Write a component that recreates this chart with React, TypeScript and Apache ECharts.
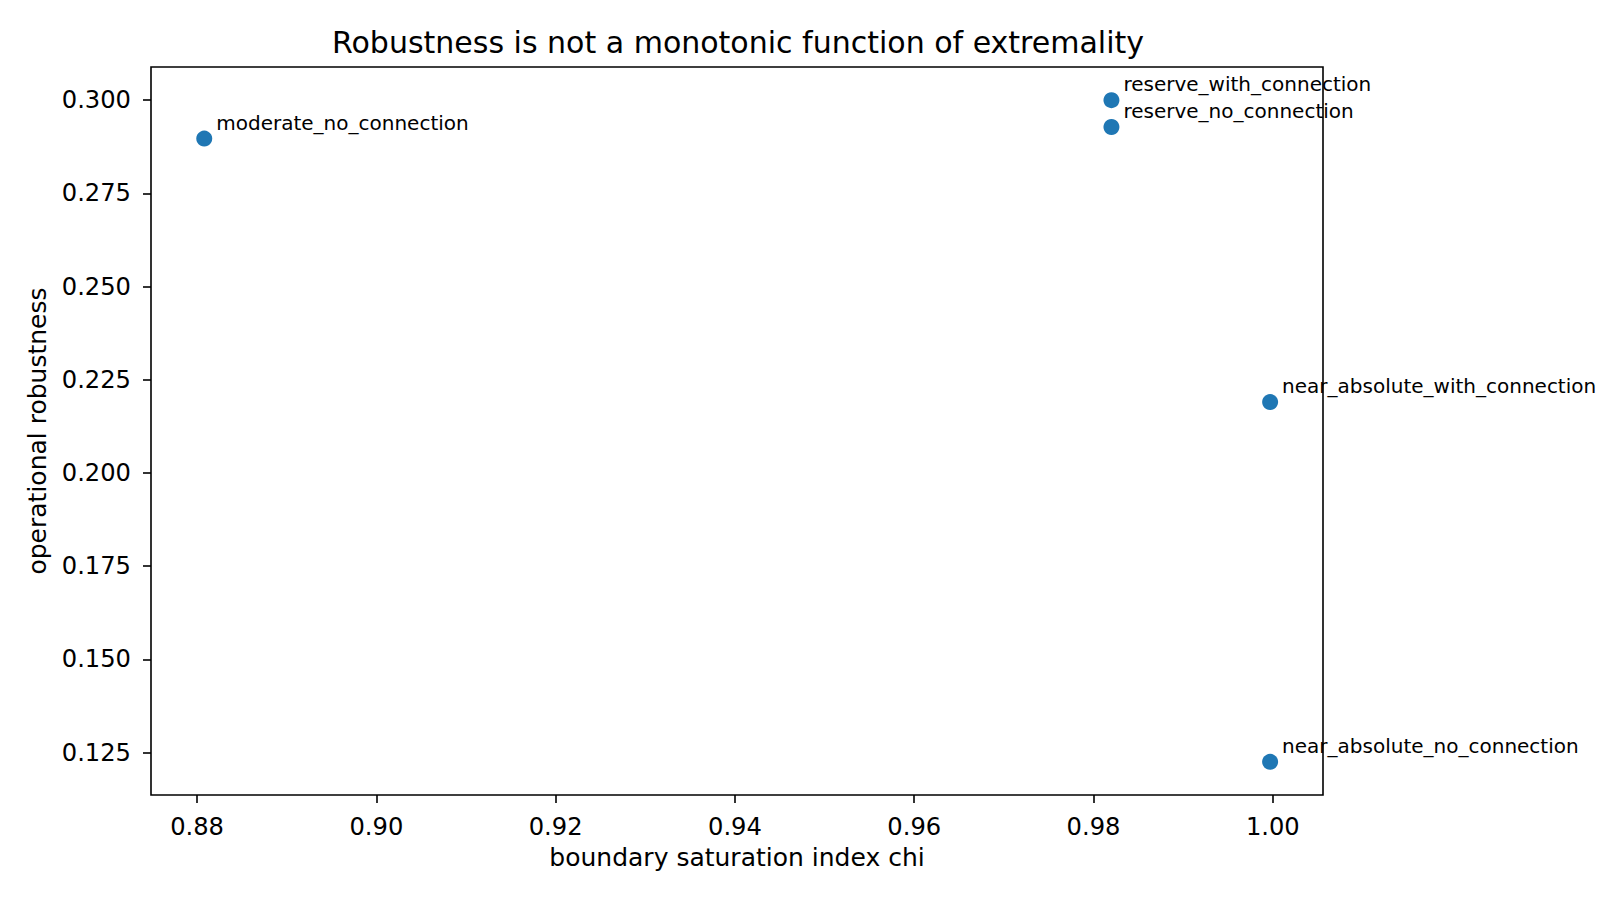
import React, { useEffect, useRef } from "react";
import * as echarts from "echarts";

// Scenario labels and their measured values
const scenarioNames = [
  "moderate_no_connection",
  "reserve_no_connection",
  "reserve_with_connection",
  "near_absolute_no_connection",
  "near_absolute_with_connection",
];
const chiValues = [0.8808, 0.982, 0.982, 0.9997, 0.9997];
const robustnessValues = [0.2897, 0.2928, 0.3, 0.1225, 0.219];

// Axis ticks and extents
const xTickValues = [0.88, 0.9, 0.92, 0.94, 0.96, 0.98, 1.0];
const yTickValues = [0.125, 0.15, 0.175, 0.2, 0.225, 0.25, 0.275, 0.3];
const xExtent = [0.87486, 1.0056];
const yExtent = [0.1136, 0.3089];

const FONT = "DejaVu Sans";

export default function App() {
  const ref = useRef<HTMLDivElement>(null);

  useEffect(() => {
    if (!ref.current) return;
    const chart = echarts.init(ref.current, undefined, { renderer: "svg" });

    const points = chiValues.map((x, i) => ({
      value: [x, robustnessValues[i]],
      name: scenarioNames[i],
    }));

    chart.setOption({
      animation: false,
      backgroundColor: "#ffffff",
      textStyle: { fontFamily: FONT },
      title: {
        text: "Robustness is not a monotonic function of extremality",
        left: 733,
        textAlign: "center",
        top: 22,
        textStyle: {
          fontFamily: FONT,
          fontSize: 30,
          fontWeight: "normal",
          color: "#000",
        },
      },
      grid: {
        left: 151,
        top: 67,
        width: 1172,
        height: 728,
        show: true,
        borderColor: "#000",
        borderWidth: 1.6,
        backgroundColor: "transparent",
      },
      xAxis: {
        type: "value",
        min: xExtent[0],
        max: xExtent[1],
        name: "boundary saturation index chi",
        nameLocation: "middle",
        nameGap: 50,
        nameTextStyle: { fontFamily: FONT, fontSize: 25, color: "#000" },
        axisLine: { show: false },
        splitLine: { show: false },
        axisTick: {
          show: true,
          length: 8,
          lineStyle: { color: "#000", width: 1.6 },
          customValues: xTickValues,
        },
        axisLabel: {
          customValues: xTickValues,
          margin: 20,
          fontFamily: FONT,
          fontSize: 24.2,
          color: "#000",
          formatter: (v: number) => v.toFixed(2),
        },
      },
      yAxis: {
        type: "value",
        min: yExtent[0],
        max: yExtent[1],
        name: "operational robustness",
        nameLocation: "middle",
        nameRotate: 90,
        nameGap: 101,
        nameTextStyle: { fontFamily: FONT, fontSize: 25, color: "#000" },
        axisLine: { show: false },
        splitLine: { show: false },
        axisTick: {
          show: true,
          length: 8,
          lineStyle: { color: "#000", width: 1.6 },
          customValues: yTickValues,
        },
        axisLabel: {
          customValues: yTickValues,
          margin: 20,
          fontFamily: FONT,
          fontSize: 24.2,
          color: "#000",
          formatter: (v: number) => v.toFixed(3),
        },
      },
      series: [
        {
          type: "scatter",
          symbol: "circle",
          symbolSize: 16,
          itemStyle: { color: "#1f77b4", opacity: 1 },
          data: points,
          label: {
            show: true,
            position: [20, -8],
            align: "left",
            verticalAlign: "middle",
            formatter: (p: any) => p.name,
            fontFamily: FONT,
            fontSize: 20,
            color: "#000",
          },
          emphasis: { disabled: true },
        },
      ],
    });

    return () => chart.dispose();
  }, []);

  return (
    <div
      ref={ref}
      style={{ position: "fixed", left: 0, top: 0, width: 1620, height: 900 }}
    />
  );
}
